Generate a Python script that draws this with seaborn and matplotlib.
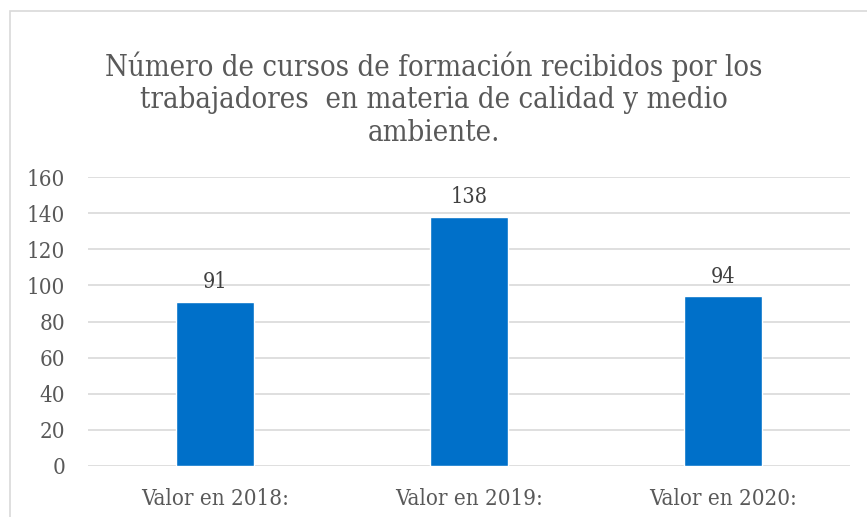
import matplotlib
matplotlib.use("Agg")
import matplotlib.pyplot as plt
import seaborn as sns
import pandas as pd
from matplotlib.patches import Rectangle

categories = ["Valor en 2018:", "Valor en 2019:", "Valor en 2020:"]
values = [91, 138, 94]
yticks = [0, 20, 40, 60, 80, 100, 120, 140, 160]
title = "Número de cursos de formación recibidos por los\ntrabajadores  en materia de calidad y medio\nambiente."

sns.set_theme(style="white")
plt.rcParams['font.family'] = ['DejaVu Serif', 'Liberation Serif']
plt.rcParams['font.stretch'] = 'condensed'
txt = "#595959"

df = pd.DataFrame({"cat": categories, "val": values})

fig = plt.figure(figsize=(8.67, 5.17), dpi=100)
ax = fig.add_axes([88/867, 1-466/517, (850-88)/867, (466-177)/517])

sns.barplot(data=df, x="cat", y="val", color="#0070C9", width=0.31,
            saturation=1, ax=ax, zorder=3)

ax.set_ylim(0, 160)
ax.set_yticks(yticks)
ax.set_xlim(-0.5, 2.5)
ax.yaxis.grid(True, color="#D9D9D9", linewidth=1.2, zorder=0)
ax.set_axisbelow(True)
for s in ax.spines.values():
    s.set_visible(False)
ax.set_xlabel("")
ax.set_ylabel("")
ax.tick_params(axis="y", length=0, pad=16.5, labelsize=16, labelcolor=txt)
ax.tick_params(axis="x", length=0, pad=15.5, labelsize=16, labelcolor=txt)
for lab in ax.get_yticklabels():
    lab.set_horizontalalignment("right")
    lab.set_fontstretch("condensed")
for lab in ax.get_xticklabels():
    lab.set_fontstretch("condensed")

for i, v in enumerate(values):
    ax.annotate(f"{v}", (i, v), xytext=(0, 6), textcoords="offset points",
                ha="center", va="bottom", fontsize=15.5, color="#404040",
                fontstretch="condensed")

fig.text(434/867, 1-99/517, title, ha="center", va="center", fontsize=21,
         color=txt, linespacing=1.2, fontstretch="condensed")

fig.patches.append(Rectangle((10/867, -0.1), 1.2, 1 - 11/517 + 0.1,
                             transform=fig.transFigure, fill=False,
                             edgecolor="#D9D9D9", linewidth=1.2))

fig.savefig("out.png", dpi=100, facecolor="white")
